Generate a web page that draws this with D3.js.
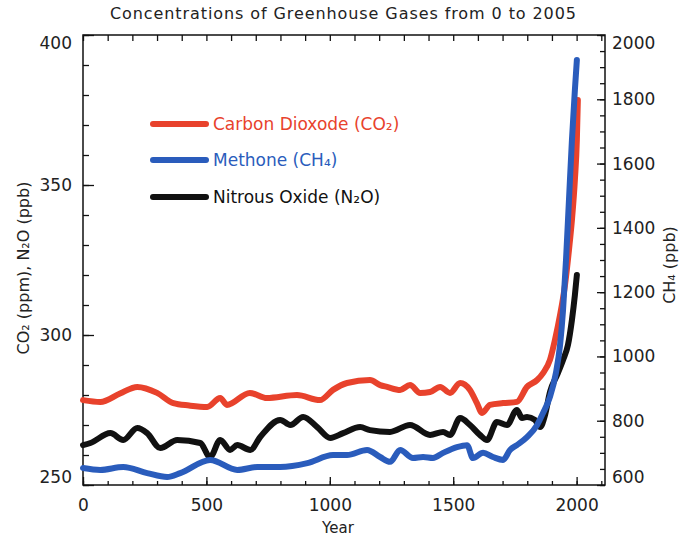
<!DOCTYPE html>
<meta charset="utf-8">
<script src="https://d3js.org/d3.v7.min.js"></script>
<style>
  body { margin: 0; background: #fff; }
  text { font-family: "DejaVu Sans", sans-serif; fill: #222; }
</style>
<div id="chart"></div>
<script>

// data
var co2Years = [0, 70, 150, 220, 300, 366, 430, 503, 556, 583, 676, 745, 867, 960, 1013, 1070, 1163, 1204, 1232, 1285, 1325, 1366, 1406, 1447, 1487, 1528, 1568, 1596, 1617, 1649, 1702, 1758, 1799, 1840, 1864, 1892, 1912, 1933, 1953, 1969, 1981, 1993, 2001, 2005];
var co2Vals  = [278.3, 277.7, 280.5, 282.7, 280.7, 277.3, 276.5, 276, 279, 276.7, 280.7, 279, 280, 278.3, 281.7, 284, 285, 283.3, 282.7, 281.7, 283.3, 280.7, 281, 282.7, 280.7, 284, 281.7, 277.3, 274, 276.7, 277.3, 277.7, 282.7, 285, 287.3, 291.7, 298.3, 306.7, 316.7, 328.3, 338.3, 351.7, 365, 378.3];

var ch4Years = [0, 70, 163, 260, 341, 394, 515, 625, 706, 799, 909, 1013, 1070, 1151, 1204, 1244, 1285, 1337, 1378, 1418, 1459, 1515, 1556, 1580, 1621, 1661, 1702, 1730, 1758, 1799, 1840, 1864, 1892, 1916, 1933, 1945, 1957, 1969, 1981, 1993, 2001];
var ch4Vals  = [653, 647, 656, 637, 625, 637, 678, 647, 656, 656, 668, 693, 693, 709, 687, 672, 709, 684, 687, 684, 700, 718, 724, 684, 700, 687, 678, 709, 724, 749, 787, 824, 874, 948, 1036, 1144, 1300, 1487, 1673, 1829, 1922];

var n2oYears = [0, 30, 111, 163, 220, 260, 313, 382, 475, 515, 556, 596, 625, 678, 718, 799, 840, 892, 949, 1002, 1054, 1123, 1163, 1244, 1325, 1406, 1459, 1487, 1528, 1568, 1608, 1637, 1677, 1718, 1758, 1779, 1799, 1831, 1852, 1872, 1892, 1921, 1945, 1965, 1981, 1993, 2001];
var n2oVals  = [263.3, 264, 267.3, 265, 269, 267.3, 262.3, 265, 264, 259.3, 265, 261.7, 263.3, 261.7, 266, 271.7, 270, 272.7, 269.3, 265.7, 267.3, 269.3, 268.3, 267.7, 270, 266.7, 267.7, 266.7, 272.3, 270, 266.7, 265, 271, 270, 275, 272.3, 272.7, 271.7, 269.3, 273.3, 281, 286.7, 291.7, 296.7, 305, 313.3, 320];

var xTicks = [0, 500, 1000, 1500, 2000];
var leftTicks = [250, 300, 350, 400];
var rightTicks = [600, 800, 1000, 1200, 1400, 1600, 1800, 2000];

var red = "#e8422c", blue = "#2a5cbc", black = "#111";

var margin = {top: 35, right: 76, bottom: 51, left: 83},
    width = 681 - margin.left - margin.right,
    height = 536 - margin.top - margin.bottom;

var svg = d3.select("#chart")
  .append("svg")
    .attr("width", 681)
    .attr("height", 536)
  .append("g")
    .attr("transform", "translate(" + margin.left + "," + margin.top + ")");

var x = d3.scaleLinear().domain([0, 2115]).range([0, width]);
var yL = d3.scaleLinear().domain([250, 400]).range([height, 0]);
var yR = d3.scaleLinear().domain([600, 2000]).range([height, 0]);

// title
svg.append("text")
  .attr("x", 27)
  .attr("y", -16)
  .attr("textLength", 466)
  .attr("lengthAdjust", "spacing")
  .style("font-size", "16px")
  .text("Concentrations of Greenhouse Gases from 0 to 2005");

// minor ticks
svg.append("g").attr("class", "minor")
  .call(d3.axisLeft(yL).tickValues(d3.range(250, 401, 10)).tickSize(-6).tickFormat(""));
svg.append("g").attr("class", "minor")
  .attr("transform", "translate(" + width + ",0)")
  .call(d3.axisRight(yR).tickValues(d3.range(600, 2001, 50)).tickSize(-5).tickFormat(""));
svg.append("g").attr("class", "minor")
  .attr("transform", "translate(0," + height + ")")
  .call(d3.axisBottom(x).tickValues(d3.range(0, 2101, 100)).tickSize(-4).tickFormat(""));
svg.append("g").attr("class", "minor")
  .call(d3.axisTop(x).tickValues(d3.range(0, 2101, 100)).tickSize(-6).tickFormat(""));

// major ticks with labels
var fmt = d3.format("d");
var gl = svg.append("g")
  .call(d3.axisLeft(yL).tickValues(leftTicks).tickFormat(fmt).tickSize(-11).tickPadding(11));
var gr = svg.append("g")
  .attr("transform", "translate(" + width + ",0)")
  .call(d3.axisRight(yR).tickValues(rightTicks).tickFormat(fmt).tickSize(-8).tickPadding(7));
var gb = svg.append("g")
  .attr("transform", "translate(0," + height + ")")
  .call(d3.axisBottom(x).tickValues(xTicks).tickFormat(fmt).tickSize(-8).tickPadding(14));

svg.selectAll(".domain").remove();
svg.selectAll(".tick line").attr("stroke", "#111").attr("stroke-width", 1.3);
svg.selectAll(".tick text").style("font-size", "17px").attr("fill", "#222");

// end labels sit inside the frame
gl.selectAll(".tick text").filter(function(d) { return d == 400; }).attr("dy", "0.8em");
gl.selectAll(".tick text").filter(function(d) { return d == 250; }).attr("dy", "-0.15em");
gr.selectAll(".tick text").filter(function(d) { return d == 2000; }).attr("dy", "0.8em");
gr.selectAll(".tick text").filter(function(d) { return d == 600; }).attr("dy", "-0.15em");

// frame
svg.append("rect")
  .attr("width", width)
  .attr("height", height)
  .attr("fill", "none")
  .attr("stroke", "#111")
  .attr("stroke-width", 1.5);

// axis titles
svg.append("text")
  .attr("x", width / 2 - 6)
  .attr("y", height + 48)
  .attr("text-anchor", "middle")
  .style("font-size", "15px")
  .text("Year");

svg.append("text")
  .attr("transform", "translate(" + (-60) + "," + 233 + ") rotate(-90)")
  .attr("text-anchor", "middle")
  .attr("dy", "0.35em")
  .style("font-size", "16px")
  .text("CO\u2082 (ppm), N\u2082O (ppb)");

svg.append("text")
  .attr("transform", "translate(" + (width + 64) + "," + 230 + ") rotate(-90)")
  .attr("text-anchor", "middle")
  .attr("dy", "0.35em")
  .style("font-size", "16px")
  .text("CH\u2084 (ppb)");

// series
function draw(years, vals, y, color) {
  var pts = years.map(function(d, i) { return [d, vals[i]]; });
  svg.append("path")
    .datum(pts)
    .attr("fill", "none")
    .attr("stroke", color)
    .attr("stroke-width", 6)
    .attr("stroke-linejoin", "round")
    .attr("stroke-linecap", "round")
    .attr("d", d3.line()
      .curve(d3.curveMonotoneX)
      .x(function(d) { return x(d[0]); })
      .y(function(d) { return y(d[1]); }));
}
draw(co2Years, co2Vals, yL, red);
draw(n2oYears, n2oVals, yL, black);
draw(ch4Years, ch4Vals, yR, blue);

// legend
var legend = [
  {label: "Carbon Dioxode  (CO\u2082)", color: red, y: 89},
  {label: "Methone  (CH\u2084)", color: blue, y: 125},
  {label: "Nitrous  Oxide (N\u2082O)", color: black, y: 162}
];
var lg = svg.selectAll(".leg").data(legend).enter().append("g")
  .attr("transform", function(d) { return "translate(" + 70 + "," + d.y + ")"; });
lg.append("line")
  .attr("x1", 0).attr("x2", 53)
  .attr("stroke", function(d) { return d.color; })
  .attr("stroke-width", 6)
  .attr("stroke-linecap", "round");
lg.append("text")
  .attr("x", 60)
  .attr("dy", "0.35em")
  .style("font-size", "17px")
  .style("fill", function(d) { return d.color; })
  .text(function(d) { return d.label; });

</script>
